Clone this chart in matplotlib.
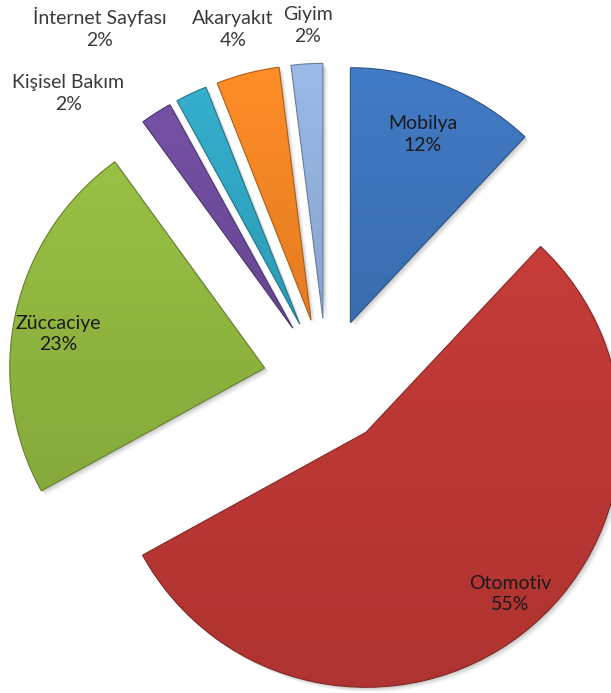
import matplotlib
matplotlib.use("Agg")
import matplotlib.pyplot as plt
import matplotlib.colors as mcolors
from matplotlib.patches import PathPatch
from matplotlib.path import Path
import numpy as np

# sector shares (%)
categories = ["Mobilya", "Otomotiv", "Züccaciye", "Kişisel Bakım",
              "İnternet Sayfası", "Akaryakıt", "Giyim"]
shares = [12, 55, 23, 2, 2, 4, 2]
colors = ["#3C72B8", "#B83633", "#8DB33E", "#6C4A99",
          "#2FA3BF", "#F08323", "#8FADD8"]

explode = [0.25] * len(shares)

# label placement: distance from pie centre and angle nudge (deg)
label_r = [1.04, 1.10, 1.07, 1.52, 1.65, 1.43, 1.40]
label_dang = [0.5, 3.0, 2.5, 9.5, 7.5, 0.5, -0.5]

plt.rcParams['font.family'] = ['Lato', 'DejaVu Sans']

fig = plt.figure(figsize=(6.11, 6.93), dpi=100)
ax = fig.add_axes([0, 0, 1, 1])

wedges, _ = ax.pie(shares, explode=explode, colors=colors, startangle=90,
                   counterclock=False, radius=1.0,
                   wedgeprops=dict(linewidth=0.8))

for w, c in zip(wedges, colors):
    base = np.array(mcolors.to_rgb(c))
    w.set_edgecolor(tuple(base * 0.72))
    path = w.get_path()
    verts = w.get_patch_transform().transform(path.vertices)
    # soft drop shadow
    for k, a in [(0.018, 0.05), (0.012, 0.07), (0.006, 0.09)]:
        sh = PathPatch(Path(verts + np.array([k, -k]), path.codes),
                       facecolor="black", edgecolor="none", alpha=a, zorder=0)
        ax.add_patch(sh)
    # gentle vertical shading inside each slice
    x0, y0 = verts.min(axis=0)
    x1, y1 = verts.max(axis=0)
    t = np.linspace(0, 1, 64)[:, None]
    light = np.clip(base * 1.06 + 0.01, 0, 1)
    dark = base * 0.95
    grad = dark[None, :] * (1 - t) + light[None, :] * t
    img = np.repeat(grad[:, None, :], 2, axis=1)
    im = ax.imshow(img, extent=(x0, x1, y0, y1), origin="lower",
                   aspect="auto", zorder=1, interpolation="bilinear")
    im.set_clip_path(w)
    w.set_zorder(2)
    w.set_facecolor("none")

# labels
tot = sum(shares)
start = 90.0
for i, (name, s) in enumerate(zip(categories, shares)):
    span = 360.0 * s / tot
    mid = start - span / 2
    start -= span
    ang = np.deg2rad(mid + label_dang[i])
    x = label_r[i] * np.cos(ang)
    y = label_r[i] * np.sin(ang)
    col = "#1a1a1a" if label_r[i] < 1.2 else "#3a3a3a"
    ax.text(x, y, "{}\n{}%".format(name, s), ha="center", va="center",
            fontsize=14, color=col, linespacing=1.3, zorder=5)

ax.set_xlim(-1.282, 1.114)
ax.set_ylim(-1.220, 1.498)
ax.set_aspect("equal")
ax.axis("off")

fig.savefig("out.png", dpi=100, facecolor="white")
